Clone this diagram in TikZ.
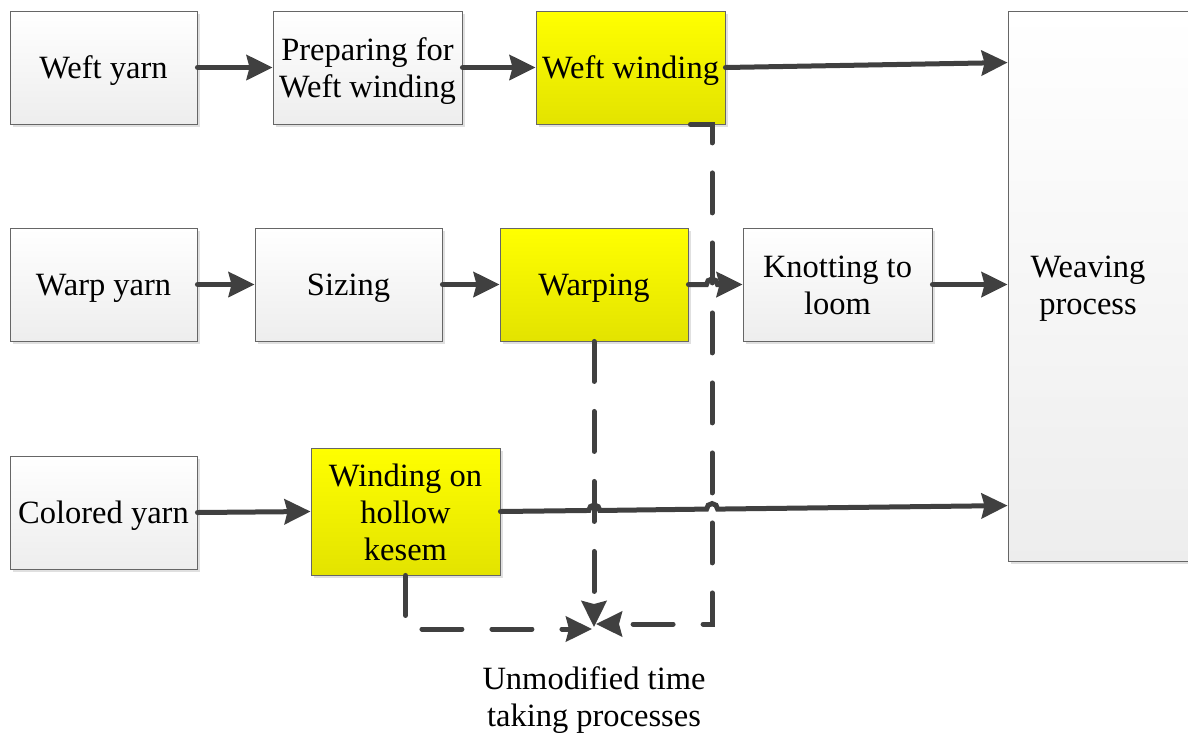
\documentclass[tikz,border=0pt]{standalone}
\usepackage{fontspec}
\setmainfont{Liberation Serif}
\usetikzlibrary{arrows.meta,shadows,calc}
\definecolor{linegray}{HTML}{404040}
\begin{document}
\begin{tikzpicture}[x=1pt,y=-1pt,
  % fixed line height and depth keep single-line texts centred alike
  txt/.style={align=center, inner sep=0pt,
    font=\fontsize{32.5}{37}\selectfont,
    execute at begin node={\rule{0pt}{29pt}},
    execute at end node={\rule[-8pt]{0pt}{8pt}}},
  box/.style={txt, rectangle, draw=black!60, line width=0.9pt,
    top color=white, bottom color=black!7,
    drop shadow={shadow xshift=3pt, shadow yshift=-3pt, fill=black!12, opacity=1}},
  hot/.style={box, top color=yellow, bottom color=yellow!89!black},
  conn/.style={draw=linegray, line width=5pt, line cap=round,
    -{Stealth[length=26pt,width=25pt,inset=3pt]}},
  dashconn/.style={conn, dash pattern=on 40pt off 30pt}
]
\useasboundingbox (0,0) rectangle (1188,732);
\clip (0,0) rectangle (1188,732);

% process boxes
\node[box, minimum width=187pt, minimum height=113pt] (weft)   at (103.5,67.5) {Weft yarn};
\node[box, minimum width=189pt, minimum height=113pt] (prep)   at (367.5,67.5) {};
\node[hot, minimum width=189pt, minimum height=113pt] (wwind)  at (630.5,67.5) {Weft winding};

\node[box, minimum width=187pt, minimum height=113pt] (warp)   at (103.5,284.5) {Warp yarn};
\node[box, minimum width=187pt, minimum height=113pt] (sizing) at (348.5,284.5) {Sizing};
\node[hot, minimum width=188pt, minimum height=113pt] (warping) at (594,284.5) {Warping};
\node[box, minimum width=189pt, minimum height=113pt] (knot)   at (837.5,284.5) {};

\node[box, minimum width=187pt, minimum height=113pt] (colored) at (103.5,512.5) {Colored yarn};
\node[hot, minimum width=189pt, minimum height=127pt] (hollow)  at (405.5,511.5) {};

\node[box, minimum width=200pt, minimum height=550pt] (weave) at (1108,286) {};

% multi-line box texts
\node[txt] (preptxt)   at ([yshift=-4.5pt]prep.center)   {Preparing for\\Weft winding};
\node[txt] (knottxt)   at ([yshift=-4.5pt]knot.center)   {Knotting to\\loom};
\node[txt] (hollowtxt) at ([yshift=-4.5pt]hollow.center) {Winding on\\hollow\\kesem};
\node[txt] (weavetxt)  at (1088,289.5) {Weaving\\process};

% helper points
\coordinate (dcol)  at (712,124);
\coordinate (convT) at (594,627);
\coordinate (convR) at (596,624);
\coordinate (convL) at (592,629);
\coordinate (wEnd)  at ($(weave.north west)+(0,52)$);
\coordinate (cEnd)  at ($(weave.north west)+(0,495)$);

% dashed feeders into the collecting point
\draw[dashconn] ($(wwind.south east)+(-35,0)$) -- (wwind.south east -| dcol) -- (dcol |- convR) -- (convR);
\draw[dashconn] (warping.south) -- (convT);
\draw[dashconn] (hollow.south) -- (hollow.south |- convL) -- (convL);

% solid flow
\draw[conn] (weft.east) -- (prep.west);
\draw[conn] (prep.east) -- (wwind.west);
\draw[conn] (wwind.east) -- (wEnd);

\draw[conn] (warp.east) -- (sizing.west);
\draw[conn] (sizing.east) -- (warping.west);
\draw[conn] (warping.east) -- ($(warping.east -| dcol)+(-5.5,0)$)
  arc[start angle=180, end angle=0, radius=5.5pt] -- (knot.west);
\draw[conn] (knot.east) -- (knot.east -| weave.west);

\draw[conn] (colored.east) -- (hollow.west);
\draw[conn] (hollow.east) -- ($(hollow.east)!0.1742!(cEnd)$)
  arc[start angle=180, end angle=0, radius=5.5pt]
  -- ($(hollow.east)!0.4065!(cEnd)$)
  arc[start angle=180, end angle=0, radius=5.5pt] -- (cEnd);

% caption under the collecting point
\node[txt] (note) at (594,700.5) {Unmodified time\\taking processes};
\end{tikzpicture}
\end{document}
